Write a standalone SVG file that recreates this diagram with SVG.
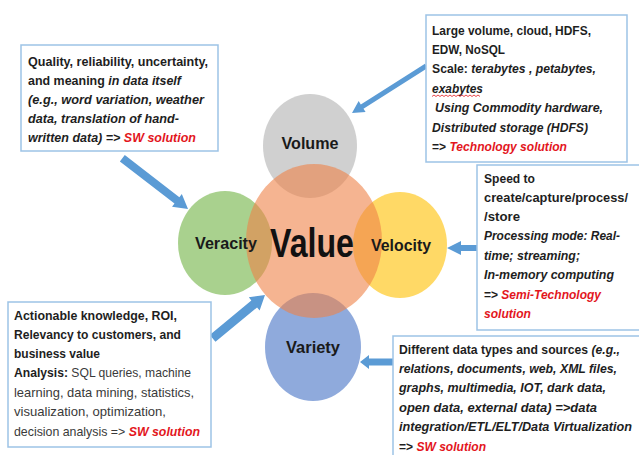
<svg xmlns="http://www.w3.org/2000/svg" width="639" height="455" viewBox="0 0 639 455">
  <style>
    .box { fill: #ffffff; stroke: #9dc3e6; stroke-width: 1.5; }
    .t { font-family: "Liberation Sans", Arial, sans-serif; font-size: 13px; font-weight: bold; fill: #1e1e1e; }
    .i { font-style: italic; }
    .r { fill: #e3161d; font-style: italic; }
    .n { font-weight: normal; fill: #3a3a3a; }
    .lbl { font-family: "Liberation Sans", Arial, sans-serif; font-size: 16px; font-weight: bold; fill: #1a1a1a; text-anchor: middle; }
    .val { font-family: "Liberation Sans", Arial, sans-serif; font-size: 40px; font-weight: bold; fill: #111111; text-anchor: middle; }
    .arrow { fill: #5b9bd5; }
    .c { opacity: 0.6; }
  </style>

  <rect width="639" height="455" fill="#ffffff"/>

  <!-- Venn circles: outer four first, Value on top so the overlaps darken -->
  <g id="volume">
    <ellipse class="c" cx="310" cy="146" rx="47" ry="52" fill="#b1b1b1"/>
  </g>
  <g id="veracity">
    <ellipse class="c" cx="225" cy="243" rx="47" ry="52" fill="#70b243"/>
  </g>
  <g id="velocity">
    <ellipse class="c" cx="400" cy="245" rx="47" ry="53" fill="#ffc000"/>
  </g>
  <g id="variety">
    <ellipse class="c" cx="313" cy="347" rx="48" ry="54" fill="#4471c5"/>
  </g>
  <g id="value">
    <ellipse class="c" cx="314" cy="241" rx="68" ry="77" fill="#ee8248"/>
  </g>

  <!-- circle labels -->
  <g id="labels">
    <text class="lbl" x="310" y="149" textLength="57" lengthAdjust="spacingAndGlyphs">Volume</text>
    <text class="lbl" x="226" y="249" textLength="62" lengthAdjust="spacingAndGlyphs">Veracity</text>
    <text class="lbl" x="401" y="251" textLength="60" lengthAdjust="spacingAndGlyphs">Velocity</text>
    <text class="lbl" x="313" y="353" textLength="54" lengthAdjust="spacingAndGlyphs">Variety</text>
    <text class="val" x="312" y="257" textLength="84" lengthAdjust="spacingAndGlyphs">Value</text>
  </g>

  <!-- block arrows from the notes to the circles -->
  <g id="connectors">
    <polygon class="arrow" transform="translate(188,209) rotate(37.7)" points="0,0 -14,-8 -14,-4 -83,-4 -83,4 -14,4 -14,8"/>
    <polygon class="arrow" transform="translate(352,113) rotate(147.6)" points="0,0 -12,-6.5 -12,-2.5 -88,-2.5 -88,2.5 -12,2.5 -12,6.5"/>
    <polygon class="arrow" transform="translate(447,248) rotate(180)" points="0,0 -14,-7 -14,-3 -30,-3 -30,3 -14,3 -14,7"/>
    <polygon class="arrow" transform="translate(265,295) rotate(-39.6)" points="0,0 -14,-8.5 -14,-4.5 -68,-4.5 -68,4.5 -14,4.5 -14,8.5"/>
    <polygon class="arrow" transform="translate(360,362) rotate(180)" points="0,0 -9,-7 -9,-3.5 -33,-3.5 -33,3.5 -9,3.5 -9,7"/>
  </g>

  <!-- Veracity note -->
  <g id="note-veracity">
    <rect class="box" x="21" y="45" width="197" height="106"/>
    <text class="t" x="28" y="66" textLength="180" lengthAdjust="spacingAndGlyphs">Quality, reliability, uncertainty,</text>
    <text class="t" x="28" y="85" textLength="153" lengthAdjust="spacingAndGlyphs">and meaning <tspan class="i">in data itself</tspan></text>
    <text class="t i" x="28" y="104" textLength="176" lengthAdjust="spacingAndGlyphs">(e.g., word variation, weather</text>
    <text class="t i" x="28" y="123" textLength="151" lengthAdjust="spacingAndGlyphs">data, translation of hand-</text>
    <text class="t i" x="28" y="142" textLength="168" lengthAdjust="spacingAndGlyphs">written data) =&gt; <tspan class="r">SW solution</tspan></text>
  </g>

  <!-- Volume note -->
  <g id="note-volume">
    <rect class="box" x="426" y="15" width="201" height="147"/>
    <text class="t" x="432" y="35" textLength="159" lengthAdjust="spacingAndGlyphs">Large volume, cloud, HDFS,</text>
    <text class="t" x="432" y="54" textLength="73" lengthAdjust="spacingAndGlyphs">EDW, NoSQL</text>
    <text class="t" x="432" y="73" textLength="164" lengthAdjust="spacingAndGlyphs">Scale: <tspan class="i">terabytes , petabytes,</tspan></text>
    <text class="t i" x="432" y="93" textLength="51" lengthAdjust="spacingAndGlyphs">exabytes</text>
    <path d="M432,96.5 l2,-1.5 l2,1.5 l2,-1.5 l2,1.5 l2,-1.5 l2,1.5 l2,-1.5 l2,1.5 l2,-1.5 l2,1.5 l2,-1.5 l2,1.5 l2,-1.5 l2,1.5 l2,-1.5 l2,1.5 l2,-1.5 l2,1.5 l2,-1.5 l2,1.5 l2,-1.5 l2,1.5 l2,-1.5 l2,1.5" fill="none" stroke="#e3161d" stroke-width="0.8"/>
    <text class="t i" x="435" y="112" textLength="168" lengthAdjust="spacingAndGlyphs">Using Commodity hardware,</text>
    <text class="t i" x="432" y="132" textLength="156" lengthAdjust="spacingAndGlyphs">Distributed storage (HDFS)</text>
    <text class="t" x="432" y="151" textLength="135" lengthAdjust="spacingAndGlyphs">=&gt; <tspan class="r">Technology solution</tspan></text>
  </g>

  <!-- Velocity note -->
  <g id="note-velocity">
    <rect class="box" x="477" y="165" width="170" height="165"/>
    <text class="t" x="484" y="183" textLength="51" lengthAdjust="spacingAndGlyphs">Speed to</text>
    <text class="t" x="484" y="202" textLength="144" lengthAdjust="spacingAndGlyphs">create/capture/process/</text>
    <text class="t" x="484" y="221" textLength="36" lengthAdjust="spacingAndGlyphs">/store</text>
    <text class="t i" x="484" y="240" textLength="136" lengthAdjust="spacingAndGlyphs">Processing mode: Real-</text>
    <text class="t i" x="484" y="260" textLength="96" lengthAdjust="spacingAndGlyphs">time; streaming;</text>
    <text class="t i" x="484" y="279" textLength="130" lengthAdjust="spacingAndGlyphs">In-memory computing</text>
    <text class="t" x="484" y="299" textLength="117" lengthAdjust="spacingAndGlyphs">=&gt; <tspan class="r">Semi-Technology</tspan></text>
    <text class="t r" x="484" y="318" textLength="47" lengthAdjust="spacingAndGlyphs">solution</text>
  </g>

  <!-- Value note -->
  <g id="note-value">
    <rect class="box" x="8" y="302" width="203" height="145"/>
    <text class="t" x="14" y="320" textLength="163" lengthAdjust="spacingAndGlyphs">Actionable knowledge, ROI,</text>
    <text class="t" x="14" y="339" textLength="167" lengthAdjust="spacingAndGlyphs">Relevancy to customers, and</text>
    <text class="t" x="14" y="358" textLength="86" lengthAdjust="spacingAndGlyphs">business value</text>
    <text class="t" x="14" y="377" textLength="177" lengthAdjust="spacingAndGlyphs">Analysis: <tspan class="n">SQL queries, machine</tspan></text>
    <text class="t n" x="14" y="397" textLength="180" lengthAdjust="spacingAndGlyphs">learning, data mining, statistics,</text>
    <text class="t n" x="14" y="416" textLength="152" lengthAdjust="spacingAndGlyphs">visualization, optimization,</text>
    <text class="t n" x="14" y="436" textLength="186" lengthAdjust="spacingAndGlyphs">decision analysis =&gt; <tspan class="r" font-weight="bold" font-style="normal">SW solution</tspan></text>
  </g>

  <!-- Variety note -->
  <g id="note-variety">
    <rect class="box" x="393" y="336" width="254" height="130"/>
    <text class="t" x="399" y="354" textLength="221" lengthAdjust="spacingAndGlyphs">Different data types and sources <tspan class="i">(e.g.,</tspan></text>
    <text class="t i" x="399" y="373" textLength="218" lengthAdjust="spacingAndGlyphs">relations, documents, web, XML files,</text>
    <text class="t i" x="399" y="392" textLength="207" lengthAdjust="spacingAndGlyphs">graphs, multimedia, IOT, dark data,</text>
    <text class="t i" x="399" y="412" textLength="198" lengthAdjust="spacingAndGlyphs">open data, external data) =&gt;data</text>
    <text class="t i" x="399" y="431" textLength="233" lengthAdjust="spacingAndGlyphs">integration/ETL/ELT/Data Virtualization</text>
    <text class="t" x="399" y="451" textLength="87" lengthAdjust="spacingAndGlyphs">=&gt; <tspan class="r">SW solution</tspan></text>
  </g>
</svg>
